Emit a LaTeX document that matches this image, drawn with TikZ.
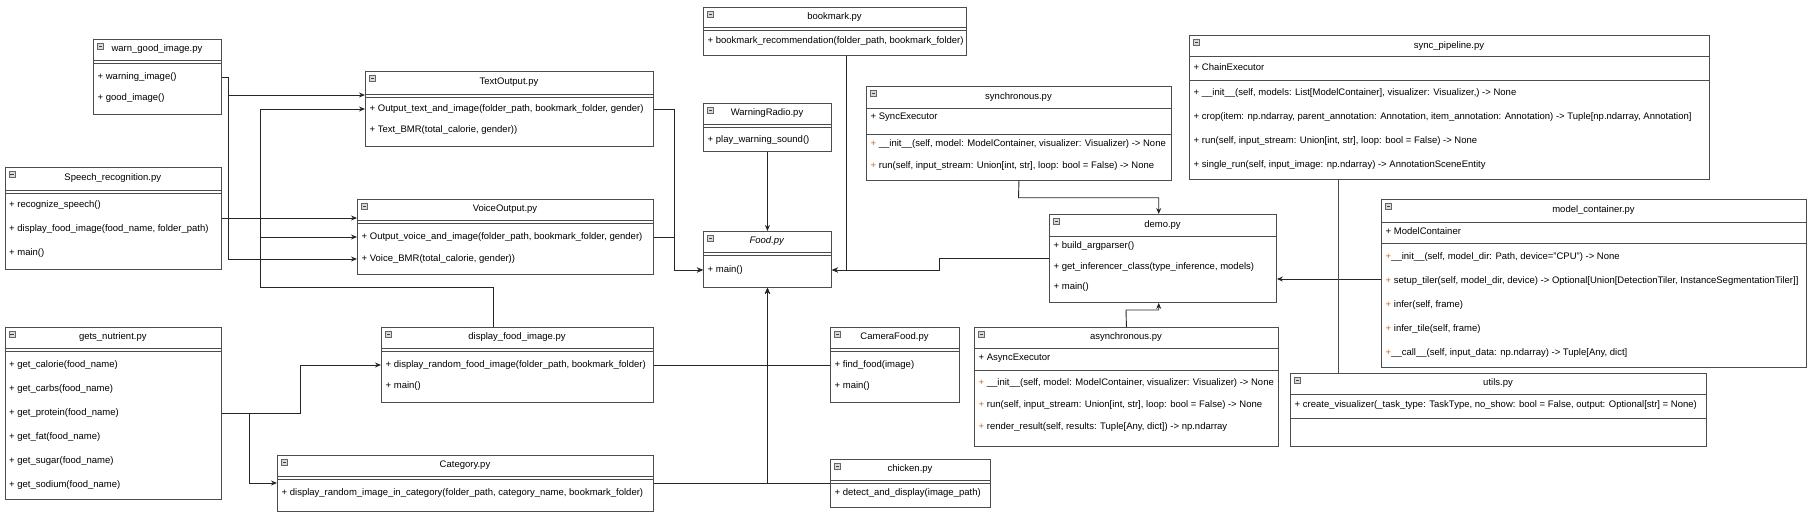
\documentclass[tikz,border=0pt]{standalone}
\usepackage{fontspec}
\setmainfont{Liberation Sans}
\usetikzlibrary{arrows.meta}

\definecolor{plusorange}{HTML}{C8702A}

\begin{document}
\begin{tikzpicture}[
    x=1pt, y=-1pt,
    >={Stealth[length=6pt, width=5pt]},
    box/.style={draw=black!70, line width=0.9pt, fill=white, anchor=north west, inner sep=0pt,
        path picture={
            \draw[black!60, fill=black!15, line width=0.5pt] ([shift={(4,4)}]path picture bounding box.north west) rectangle +(6,6);
            \draw[black!75, line width=0.8pt] ([shift={(5.4,7)}]path picture bounding box.north west) -- +(3.2,0);
        }},
    title/.style={font=\fontsize{9.5}{11}\selectfont, inner sep=0pt},
    item/.style={font=\fontsize{9.5}{11}\selectfont, anchor=west, inner sep=0pt},
    rule/.style={draw=black!70, line width=0.9pt},
    conn/.style={draw=black!85, line width=0.9pt, ->}
]
\useasboundingbox (0,0) rectangle (1812,515);

% warn_good_image.py
\node[box, minimum width=128, minimum height=75] (warn) at (93,39) {};
\node[title] (warnT) at (157,49.5) {warn\_good\_image.py};
\draw[rule] (93,60) -- ++(128,0) (93,63) -- ++(128,0);
\node[item] (warn1) at (97.5,77) {+ warning\_image()};
\node[item] (warn2) at (97.5,98) {+ good\_image()};

% TextOutput.py
\node[box, minimum width=288, minimum height=75] (textout) at (365,71) {};
\node[title] (textoutT) at (509,82.5) {TextOutput.py};
\draw[rule] (365,94) -- ++(288,0) (365,97) -- ++(288,0);
\node[item] (textout1) at (369.5,109) {+ Output\_text\_and\_image(folder\_path, bookmark\_folder, gender)};
\node[item] (textout2) at (369.5,130) {+ Text\_BMR(total\_calorie, gender))};

% Speech_recognition.py
\node[box, minimum width=216.4, minimum height=102] (speech) at (4.6,167) {};
\node[title] (speechT) at (112.8,178.5) {Speech\_recognition.py};
\draw[rule] (4.6,190) -- ++(216.4,0) (4.6,193) -- ++(216.4,0);
\node[item] (speech1) at (9,205) {+ recognize\_speech()};
\node[item] (speech2) at (9,229) {+ display\_food\_image(food\_name, folder\_path)};
\node[item] (speech3) at (9,253) {+ main()};

% VoiceOutput.py
\node[box, minimum width=296, minimum height=75] (voice) at (357,199) {};
\node[title] (voiceT) at (505,209.5) {VoiceOutput.py};
\draw[rule] (357,220) -- ++(296,0) (357,223) -- ++(296,0);
\node[item] (voice1) at (361.5,237) {+ Output\_voice\_and\_image(folder\_path, bookmark\_folder, gender)};
\node[item] (voice2) at (361.5,259) {+ Voice\_BMR(total\_calorie, gender))};

% gets_nutrient.py
\node[box, minimum width=216.4, minimum height=172] (nutrient) at (4.6,327) {};
\node[title] (nutrientT) at (112.8,337.5) {gets\_nutrient.py};
\draw[rule] (4.6,348) -- ++(216.4,0) (4.6,351) -- ++(216.4,0);
\foreach \f [count=\i] in {calorie, carbs, protein, fat, sugar, sodium}
    \node[item] (nut\i) at (9,341+24*\i) {+ get\_\f(food\_name)};

% display_food_image.py
\node[box, minimum width=272, minimum height=75] (dispimg) at (381,327) {};
\node[title] (dispimgT) at (517,337.5) {display\_food\_image.py};
\draw[rule] (381,348) -- ++(272,0) (381,351) -- ++(272,0);
\node[item] (disp1) at (385.5,365) {+ display\_random\_food\_image(folder\_path, bookmark\_folder)};
\node[item] (disp2) at (385.5,386) {+ main()};

% Category.py
\node[box, minimum width=376, minimum height=56] (category) at (277,455) {};
\node[title] (categoryT) at (465,465.5) {Category.py};
\draw[rule] (277,476) -- ++(376,0) (277,479) -- ++(376,0);
\node[item] (cat1) at (281.5,493) {+ display\_random\_image\_in\_category(folder\_path, category\_name, bookmark\_folder)};

% bookmark.py
\node[box, minimum width=263, minimum height=48] (bookmark) at (703,7) {};
\node[title] (bookmarkT) at (834.5,17) {bookmark.py};
\draw[rule] (703,27) -- ++(263,0) (703,30) -- ++(263,0);
\node[item] (book1) at (707.5,41) {+ bookmark\_recommendation(folder\_path, bookmark\_folder)};

% WarningRadio.py
\node[box, minimum width=128, minimum height=48] (radio) at (703,103) {};
\node[title] (radioT) at (767,113.5) {WarningRadio.py};
\draw[rule] (703,124) -- ++(128,0) (703,127) -- ++(128,0);
\node[item] (radio1) at (707.5,140) {+ play\_warning\_sound()};

% Food.py
\node[box, minimum width=128, minimum height=56] (food) at (703,231) {};
\node[title] (foodT) at (767,241.5) {\textit{Food.py}};
\draw[rule] (703,252) -- ++(128,0) (703,255) -- ++(128,0);
\node[item] (food1) at (707.5,270) {+ main()};

% CameraFood.py
\node[box, minimum width=129, minimum height=75] (camera) at (830,327) {};
\node[title] (cameraT) at (894.5,337.5) {CameraFood.py};
\draw[rule] (830,348) -- ++(129,0) (830,351) -- ++(129,0);
\node[item] (cam1) at (834.5,365) {+ find\_food(image)};
\node[item] (cam2) at (834.5,386) {+ main()};

% chicken.py
\node[box, minimum width=160, minimum height=48] (chicken) at (830,459) {};
\node[title] (chickenT) at (910,469.5) {chicken.py};
\draw[rule] (830,480) -- ++(160,0) (830,483) -- ++(160,0);
\node[item] (chick1) at (834.5,493) {+ detect\_and\_display(image\_path)};

% synchronous.py
\node[box, minimum width=305, minimum height=94] (sync) at (866,86) {};
\node[title] (syncT) at (1018.5,97) {synchronous.py};
\draw[rule] (866,108) -- ++(305,0) (866,134) -- ++(305,0);
\node[item] (syncA) at (870.5,117) {+ SyncExecutor};
\node[item] (sync1) at (870.5,144) {{\color{plusorange}+} \_\_init\_\_(self, model: ModelContainer, visualizer: Visualizer) -> None};
\node[item] (sync2) at (870.5,166) {{\color{plusorange}+} run(self, input\_stream: Union[int, str], loop: bool = False) -> None};

% demo.py
\node[box, minimum width=227, minimum height=88] (demo) at (1049,214) {};
\node[title] (demoT) at (1162.5,225) {demo.py};
\draw[rule] (1049,236) -- ++(227,0);
\node[item] (demo1) at (1053.5,246) {+ build\_argparser()};
\node[item] (demo2) at (1053.5,267) {+ get\_inferencer\_class(type\_inference, models)};
\node[item] (demo3) at (1053.5,287) {+ main()};

% asynchronous.py
\node[box, minimum width=304, minimum height=119] (async) at (974,327) {};
\node[title] (asyncT) at (1126,337.5) {asynchronous.py};
\draw[rule] (974,348) -- ++(304,0) (974,370) -- ++(304,0);
\node[item] (asyncA) at (978.5,358) {+ AsyncExecutor};
\node[item] (async1) at (978.5,383) {{\color{plusorange}+} \_\_init\_\_(self, model: ModelContainer, visualizer: Visualizer) -> None};
\node[item] (async2) at (978.5,405) {{\color{plusorange}+} run(self, input\_stream: Union[int, str], loop: bool = False) -> None};
\node[item] (async3) at (978.5,427) {{\color{plusorange}+} render\_result(self, results: Tuple[Any, dict]) -> np.ndarray};

% sync_pipeline.py
\node[box, minimum width=520, minimum height=144] (pipeline) at (1189,35) {};
\node[title] (pipelineT) at (1449,46) {sync\_pipeline.py};
\draw[rule] (1189,56) -- ++(520,0) (1189,80) -- ++(520,0);
\node[item] (pipeA) at (1193.5,67) {+ ChainExecutor};
\node[item] (pipe1) at (1193.5,93) {+ \_\_init\_\_(self, models: List[ModelContainer], visualizer: Visualizer,) -> None};
\node[item] (pipe2) at (1193.5,117) {+ crop(item: np.ndarray, parent\_annotation: Annotation, item\_annotation: Annotation) -> Tuple[np.ndarray, Annotation]};
\node[item] (pipe3) at (1193.5,141) {+ run(self, input\_stream: Union[int, str], loop: bool = False) -> None};
\node[item] (pipe4) at (1193.5,165) {+ single\_run(self, input\_image: np.ndarray) -> AnnotationSceneEntity};

% model_container.py
\node[box, minimum width=425, minimum height=168] (model) at (1381,199) {};
\node[title] (modelT) at (1593.5,210.5) {model\_container.py};
\draw[rule] (1381,222) -- ++(425,0) (1381,243) -- ++(425,0);
\node[item] (modelA) at (1385.5,231) {+ ModelContainer};
\node[item] (model1) at (1385.5,257) {{\color{plusorange}+}\_\_init\_\_(self, model\_dir: Path, device="CPU") -> None};
\node[item] (model2) at (1385.5,281) {{\color{plusorange}+} setup\_tiler(self, model\_dir, device) -> Optional[Union[DetectionTiler, InstanceSegmentationTiler]]};
\node[item] (model3) at (1385.5,305) {{\color{plusorange}+} infer(self, frame)};
\node[item] (model4) at (1385.5,329) {{\color{plusorange}+} infer\_tile(self, frame)};
\node[item] (model5) at (1385.5,353) {{\color{plusorange}+}\_\_call\_\_(self, input\_data: np.ndarray) -> Tuple[Any, dict]};

% utils.py
\node[box, minimum width=416, minimum height=73] (utils) at (1290,373) {};
\node[title] (utilsT) at (1498,383.5) {utils.py};
\draw[rule] (1290,394) -- ++(416,0) (1290,418) -- ++(416,0);
\node[item] (utils1) at (1294.5,405) {+ create\_visualizer(\_task\_type: TaskType, no\_show: bool = False, output: Optional[str] = None)};

% Connectors on the left
\draw[conn] (warn.east |- warn1) -- (228.5,77) |- (textout.west |- 0,95);
\draw[conn] (warn.east |- warn1) -- (228.5,77) |- (voice.west |- voice2);
\draw[conn] (speech.east |- 0,218) -- (voice.west |- 0,218);
\draw[conn] (dispimg.north -| 493,0) |- (260.6,287) |- (textout.west |- textout1);
\draw[conn] (dispimg.north -| 493,0) |- (260.6,287) |- (voice.west |- voice1);
\draw[conn] (nutrient.east |- nut3) -- (300.4,413) |- (dispimg.west |- disp1);
\draw[conn] (nutrient.east |- nut3) -- (249,413) |- (category.west |- 0,483);

% Connectors into Food.py
\draw[conn] (radio.south) -- (food.north);
\draw[conn] (textout.east |- textout1) -- (674.3,109) |- (food.west |- food1);
\draw[conn] (voice.east |- voice1) -- (674.3,237) |- (food.west |- food1);
\draw[conn] (bookmark.south -| 846,0) |- (food.east |- food1);
\draw[conn] (demo.west |- 0,258) -- (939.8,258) |- (food.east |- food1);
\draw[conn] (dispimg.east |- disp1) -| (food.south);
\draw[conn] (camera.west |- cam1) -| (food.south);
\draw[conn] (category.east |- 0,483) -| (food.south);
\draw[conn] (chicken.west |- 0,483) -| (food.south);

% Connectors on the right
\draw[conn] (sync.south) -- (1018.5,197.7) -| (demo.north -| 1158.7,0);
\draw[conn] (async.north) -- (1126,310) -| (demo.south -| 1158.7,0);
\draw[conn] (model.west |- 0,279) -- (demo.east |- 0,279);
\draw[rule] (pipeline.south -| 1338.4,0) -- (utils.north -| 1338.4,0);

\end{tikzpicture}
\end{document}
